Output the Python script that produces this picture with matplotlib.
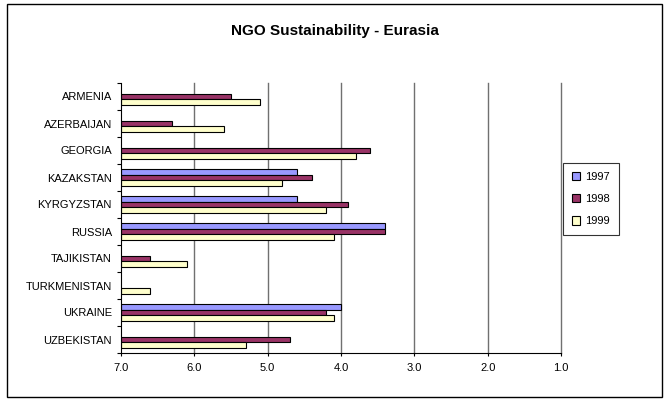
import numpy as np
import matplotlib.pyplot as plt
import matplotlib.patheffects as pe
from matplotlib.patches import Patch, Rectangle

plt.rcParams['font.family'] = ['Liberation Sans', 'DejaVu Sans']

countries = ['ARMENIA', 'AZERBAIJAN', 'GEORGIA', 'KAZAKSTAN', 'KYRGYZSTAN',
             'RUSSIA', 'TAJIKISTAN', 'TURKMENISTAN', 'UKRAINE', 'UZBEKISTAN']
years = ['1997', '1998', '1999']
# sustainability scores, nan where a country was not rated that year
score_1997 = [np.nan, np.nan, np.nan, 4.6, 4.6, 3.4, np.nan, np.nan, 4.0, np.nan]
score_1998 = [5.5, 6.3, 3.6, 4.4, 3.9, 3.4, 6.6, np.nan, 4.2, 4.7]
score_1999 = [5.1, 5.6, 3.8, 4.8, 4.2, 4.1, 6.1, 6.6, 4.1, 5.3]
colors = ['#9999FF', '#993366', '#FFFFCC']

fig = plt.figure(figsize=(6.7, 4.05), dpi=100)
ax = fig.add_axes([121/670, 1 - 353/405, 440/670, 270/405])

base = 7.0
h = 0.21
y = np.arange(len(countries))
shadow = [pe.SimplePatchShadow(offset=(0.8, -0.8), shadow_rgbFace='#808080', alpha=0.7),
          pe.Normal()]
for j, vals in enumerate([score_1997, score_1998, score_1999]):
    vals = np.array(vals)
    bars = ax.barh(y + (j - 1) * h, vals - base, left=base, height=h,
                   color=colors[j], edgecolor='black', linewidth=0.8, zorder=3)
    for b in bars:
        b.set_path_effects(shadow)

ax.set_xlim(7, 1)
ax.set_ylim(len(countries) - 0.5, -0.5)
ticks = np.arange(7, 0.5, -1)
ax.set_xticks(ticks)
ax.set_xticklabels([f'{v:.1f}' for v in ticks], fontsize=8)
ax.set_yticks(y)
ax.set_yticklabels(countries, fontsize=8)
ax.set_yticks(np.arange(-0.5, len(countries)), minor=True)
ax.tick_params(axis='y', which='major', length=0, pad=6.5)
ax.tick_params(axis='y', which='minor', length=3, direction='out', width=0.8)
ax.tick_params(axis='x', length=2.5, width=0.8, pad=5)

# vertical gridlines, including the one on the right edge
for t in ticks[1:]:
    ax.axvline(t, color='#707070', linewidth=1, zorder=0, clip_on=False)
for side in ['top', 'right']:
    ax.spines[side].set_visible(False)
for side in ['left', 'bottom']:
    ax.spines[side].set_linewidth(0.8)
    ax.spines[side].set_zorder(4)

fig.text(0.5, 1 - 31/405, 'NGO Sustainability - Eurasia', ha='center', va='center',
         fontsize=11, fontweight='bold')

handles = [Patch(facecolor=c, edgecolor='black', linewidth=0.8) for c in colors]
leg = fig.legend(handles, years, loc='upper left', bbox_to_anchor=(563/670, 1 - 163/405),
                 fontsize=8, frameon=True, fancybox=False, handlelength=0.75,
                 handleheight=0.75, handletextpad=0.45, labelspacing=1.1,
                 borderpad=0.8, borderaxespad=0)
leg.get_frame().set_edgecolor('black')
leg.get_frame().set_linewidth(0.8)

# chart border
fig.patches.append(Rectangle((7/670, 1 - 397/405), 655/670, 393/405, transform=fig.transFigure,
                             fill=False, edgecolor='black', linewidth=1))

fig.savefig('out.png', dpi=100)
